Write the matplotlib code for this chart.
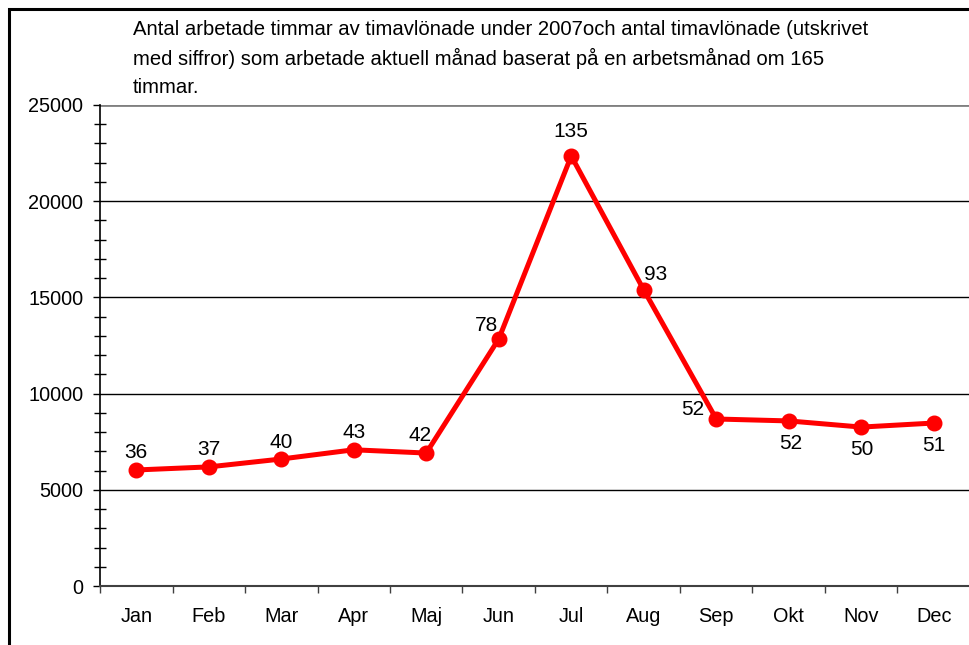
import matplotlib
matplotlib.use("Agg")
import matplotlib.pyplot as plt
from matplotlib.ticker import MultipleLocator
from matplotlib.patches import Rectangle

months = ["Jan", "Feb", "Mar", "Apr", "Maj", "Jun", "Jul", "Aug", "Sep", "Okt", "Nov", "Dec"]
hours = [6030, 6190, 6600, 7080, 6910, 12840, 22350, 15390, 8680, 8580, 8260, 8470]
workers = [36, 37, 40, 43, 42, 78, 135, 93, 52, 52, 50, 51]
# label offsets in pixels (dx, dy)
label_off = [(0, 17), (0, 17), (0, 17), (0, 17), (-6, 18), (-12, 13), (0, 24), (12, 15),
             (-24, 9), (2, -23), (1, -22), (0, -22)]

title = ("Antal arbetade timmar av timavlönade under 2007och antal timavlönade (utskrivet\n"
         "med siffror) som arbetade aktuell månad baserat på en arbetsmånad om 165\n"
         "timmar.")

plt.rcParams['font.family'] = ['Liberation Sans', 'DejaVu Sans']
FS = 14.3

W, H = 969, 645
fig = plt.figure(figsize=(W / 100, H / 100), dpi=100)

# outer frame (only left and top visible in picture)
fig.patches.append(Rectangle((9 / W, -0.1), 1.2, 1 - 9 / H + 0.1, transform=fig.transFigure,
                             fill=False, edgecolor="black", linewidth=2.2))

ax = fig.add_axes([100 / W, 1 - 586 / H, 870 / W, 481 / H])
x = list(range(len(months)))
ax.plot(x, hours, color="#ff0000", linewidth=3.6, marker="o", markersize=10.5, zorder=3,
        clip_on=False)

for i, (v, n) in enumerate(zip(hours, workers)):
    dx, dy = label_off[i]
    ax.annotate(str(n), (i, v), xytext=(dx * 0.72, dy * 0.72), textcoords="offset points",
                ha="center", va="center", fontsize=15, color="black")

ax.set_xlim(-0.5, 11.5)
ax.set_ylim(0, 25000)
ax.yaxis.set_major_locator(MultipleLocator(5000))
ax.yaxis.set_minor_locator(MultipleLocator(1000))
ax.set_xticks([i - 0.5 for i in range(12)])
ax.set_xticklabels([])
ax.set_xticks(x, minor=True)
ax.set_xticklabels(months, minor=True)
ax.tick_params(axis="x", which="minor", length=0, pad=15, labelsize=FS)
ax.tick_params(axis="x", which="major", length=5, color="#404040", width=1)
ax.tick_params(axis="y", which="major", length=5, direction="out", width=1, pad=7, labelsize=FS)
ax.tick_params(axis="y", which="minor", length=8, direction="inout", width=1)

for y in range(5000, 25001, 5000):
    ax.axhline(y, color="#808080" if y == 25000 else "black", linewidth=2 if y == 25000 else 1,
               zorder=1)

ax.spines["top"].set_visible(False)
ax.spines["right"].set_visible(False)
ax.spines["left"].set_color("black")
ax.spines["left"].set_linewidth(1.2)
ax.spines["bottom"].set_color("#404040")
ax.spines["bottom"].set_linewidth(1.5)

fig.text(133 / W, 1 - 20 / H, title, ha="left", va="top", fontsize=14.6, linespacing=1.55)

fig.savefig("out.png", dpi=100)
